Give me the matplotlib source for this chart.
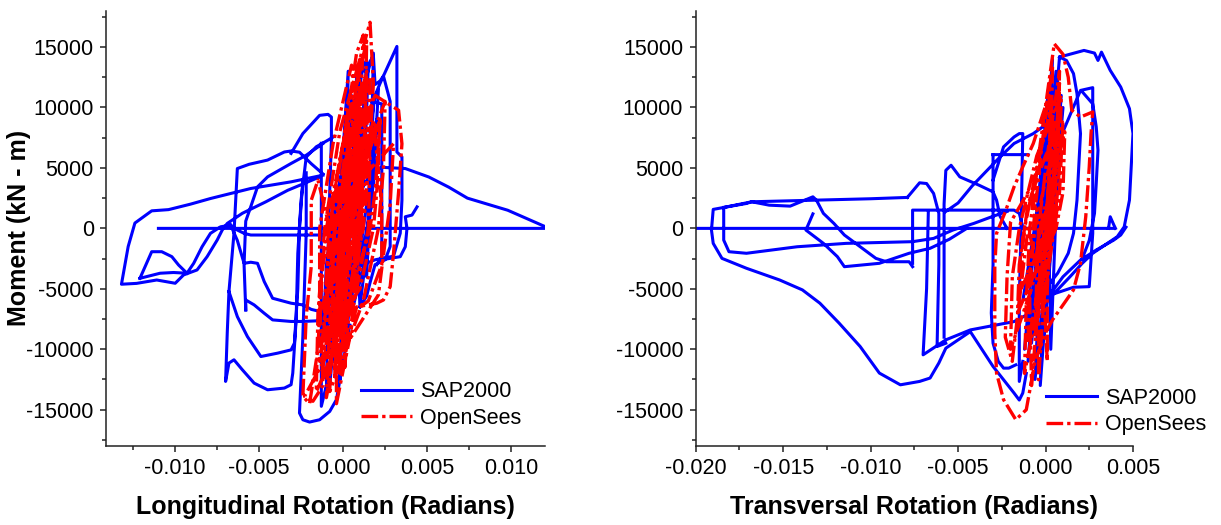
import numpy as np
import matplotlib.pyplot as plt
from matplotlib.ticker import MultipleLocator, FormatStrFormatter

plt.rcParams["font.family"] = ["Liberation Sans", "DejaVu Sans"]
plt.rcParams["axes.unicode_minus"] = False

# ---- Longitudinal panel: SAP2000 (blue), traced as (rotation, moment) pieces
long_sap = [
    [(-0.0110, 0), (0.0121, 0)],
    [(0.0121, 100), (0.0098, 1500), (0.0074, 2500), (0.0063, 3400), (0.0051, 4250),
     (0.0037, 4950), (0.0023, 5050), (0.0017, 4700), (0.0010, 3000)],
    [(-0.0012, 4400), (-0.0031, 3850), (-0.0055, 3300), (-0.0079, 2470), (-0.0091, 2000),
     (-0.0104, 1550), (-0.0114, 1450), (-0.0124, 440), (-0.0128, -1500), (-0.0132, -4620),
     (-0.0123, -4550), (-0.0111, -4270), (-0.0100, -4540), (-0.0095, -3850), (-0.0087, -3440),
     (-0.0081, -2340), (-0.0075, -965), (-0.0072, -140), (-0.0069, 410), (-0.0060, 1250),
     (-0.0046, 2200), (-0.0033, 3150), (-0.0014, 4250)],
    [(-0.0121, -4130), (-0.0114, -1930), (-0.0108, -1930), (-0.0102, -2340), (-0.0098, -3030),
     (-0.0093, -3710), (-0.0101, -3650), (-0.0109, -3710), (-0.0121, -4130)],
    [(-0.0093, -3710), (-0.0089, -2890), (-0.0084, -1520), (-0.0079, -410), (-0.0073, 130),
     (-0.0067, 270), (-0.0063, -140), (-0.0059, -410), (-0.0055, -550), (-0.0012, -550)],
    [(-0.0067, 270), (-0.0063, -1000), (-0.0059, -2890), (-0.0055, -2800), (-0.0051, -2890),
     (-0.0047, -4400), (-0.0042, -5780), (-0.0031, -6190), (-0.0024, -6330), (-0.0019, -6700),
     (-0.0013, -6900)],
    [(-0.0058, -6740), (-0.0058, -5920), (-0.0053, -6330), (-0.0047, -7020), (-0.0042, -7570),
     (-0.0031, -7700), (-0.0024, -7700), (-0.0016, -7650), (-0.0011, -7200)],
    [(-0.0058, -6740), (-0.0059, -3000), (-0.0058, 600), (-0.0055, 1800), (-0.0051, 3430),
     (-0.0045, 4260), (-0.0031, 5370), (-0.0022, 6050), (-0.0012, 7020)],
    [(-0.0012, 4500), (-0.0019, 5350), (-0.0026, 6300), (-0.0031, 6400), (-0.0035, 6320),
     (-0.0045, 5650), (-0.0056, 5300), (-0.0063, 4950), (-0.0064, 2300), (-0.0065, -400),
     (-0.0068, -5230), (-0.0069, -8600), (-0.0070, -12660), (-0.0068, -11140), (-0.0065, -10870),
     (-0.0060, -11700), (-0.0053, -12800), (-0.0045, -13350), (-0.0035, -13210), (-0.0031, -12930),
     (-0.0030, -11970), (-0.0028, -7570), (-0.0027, -2060), (-0.0025, 2400), (-0.0022, 5900),
     (-0.0016, 6750), (-0.0009, 7300), (-0.0006, 7550)],
    [(-0.0068, -5230), (-0.0063, -7300), (-0.0057, -8950), (-0.0049, -10600), (-0.0039, -10320),
     (-0.0031, -10050), (-0.0029, -9490), (-0.0027, -5000), (-0.0026, 0), (-0.0024, 4000)],
    [(-0.0022, 4600), (-0.0022, -410), (-0.0024, -8950), (-0.0026, -15270), (-0.0024, -15830),
     (-0.0020, -16020), (-0.0014, -15830), (-0.0008, -15140), (-0.0004, -14170),
     (0.0000, -11000), (0.0004, -8000)],
    [(-0.0031, 6200), (-0.0024, 7840), (-0.0014, 9350), (-0.0009, 9430), (-0.0007, 9210),
     (-0.0007, 7290), (-0.0008, 3000), (-0.0009, -2000)],
    [(0.0009, -3150), (0.0019, -2600), (0.0030, -2300), (0.0034, -400), (0.0035, 2330),
     (0.0035, 5910), (0.0032, 6320), (0.0032, 15050), (0.0022, 12000), (0.0019, 11000),
     (0.0016, 8000)],
    [(0.0022, -2620), (0.0028, -2480), (0.0034, -2340), (0.0037, -1520), (0.0038, 0),
     (0.0037, 960), (0.0041, 1100), (0.0044, 1780)],
    [(0.0013, 13000), (0.0018, 14300), (0.0019, 11900), (0.0022, 12200), (0.0024, 12600),
     (0.0028, 10500), (0.0028, 3000), (0.0028, -1500), (0.0025, -2600), (0.0019, -3000),
     (0.0016, -4500), (0.0014, -5600), (0.0010, -6500)],
    [(0.0017, 10500), (0.0023, 10300), (0.0023, 3000), (0.0023, -2300), (0.0020, -3000)],
    [(-0.0013, 7040), (-0.0013, -3000), (-0.0013, -14720), (-0.0010, -13000)],
    [(0.0000, 0), (0.0004, 7500), (0.0009, 12500), (0.0006, 6000), (0.0003, 0), (-0.0004, -7000),
     (-0.0008, -13000), (-0.0006, -6000), (-0.0004, 0), (0.0004, 7000), (0.0012, 13500),
     (0.0014, 13900), (0.0010, 5000), (0.0005, 0), (-0.0004, -8000), (-0.0010, -13500),
     (-0.0009, -6000), (-0.0007, 0), (0.0002, 7000), (0.0018, 14500), (0.0017, 8000),
     (0.0016, 4000), (0.0010, -2000), (-0.0006, -10000), (-0.0005, -4000), (-0.0003, 0),
     (0.0003, 13000), (0.0002, 5000), (0.0000, -5000), (-0.0002, -12500), (0.0000, -5000),
     (0.0004, 0), (0.0010, 7000), (0.0015, 13600), (0.0013, 6000), (0.0010, 0), (0.0002, -5000),
     (-0.0009, -8000), (-0.0007, -2000), (-0.0004, 3000), (0.0010, 8000), (0.0021, 11500),
     (0.0018, 4000), (0.0014, -2000), (0.0005, -7000), (0.0007, 0), (0.0011, 9000),
     (0.0008, 3000), (0.0002, -2000), (-0.0010, -6000), (-0.0008, 0), (0.0005, 6000),
     (0.0018, 10500), (0.0016, 3000), (0.0013, -3000), (0.0010, -6500), (0.0008, 0),
     (0.0005, 11000), (0.0003, 4000), (-0.0004, -3000), (-0.0012, -9000), (-0.0010, -3000),
     (-0.0004, 2000), (0.0012, 8000), (0.0010, 2000), (0.0006, -3000), (0.0002, -9000),
     (0.0003, -3000), (0.0005, 3000), (0.0008, 12500), (0.0006, 5000), (0.0002, -2000),
     (-0.0006, -11000), (-0.0004, -4000), (0.0000, 2000), (0.0003, 6000), (0.0010, 0),
     (0.0014, -4000), (0.0016, 2000), (0.0020, 9000), (0.0017, 2000), (0.0010, -3000),
     (-0.0001, -8000), (0.0001, -2000), (0.0006, 5000), (0.0003, 0), (-0.0003, -4000),
     (0.0002, 3000), (0.0000, 0)],
]

# ---- Longitudinal panel: OpenSees (red)
long_ops = [
    [(0.0000, 0), (0.0004, 6000), (0.0008, 11000), (0.0007, 6000), (0.0005, 0), (0.0000, -5000),
     (-0.0006, -8500), (-0.0006, -4000), (-0.0004, 0), (0.0002, 6000), (0.0010, 14000),
     (0.0009, 7000), (0.0007, 0), (0.0000, -7000), (-0.0012, -12500), (-0.0011, -6000),
     (-0.0008, 0), (0.0000, 7000), (0.0014, 15500), (0.0013, 8000), (0.0010, 0), (0.0002, -8000),
     (-0.0016, -13500), (-0.0015, -7000), (-0.0011, 0), (-0.0002, 8000), (0.0016, 17050),
     (0.0018, 12000), (0.0015, 5000), (0.0012, 0), (0.0000, -8000), (-0.0023, -13900),
     (-0.0018, -14300), (-0.0012, -13000), (-0.0014, -6000), (-0.0014, 0), (-0.0006, 7000),
     (0.0005, 13500), (0.0011, 8000), (0.0011, 0), (0.0004, -9000), (-0.0004, -14500),
     (-0.0004, -7000), (-0.0002, 0), (0.0004, 6500), (0.0012, 12000), (0.0016, 6000),
     (0.0015, 0), (0.0006, -6500), (-0.0014, -11000), (-0.0008, -4000), (-0.0005, 0),
     (0.0005, 6000), (0.0019, 11000), (0.0028, 10200), (0.0033, 9770), (0.0035, 7000),
     (0.0033, 3000), (0.0030, -2060), (0.0028, -4820), (0.0024, -5920), (0.0020, -6190),
     (0.0008, -6500), (-0.0002, -12000), (-0.0001, -6000), (0.0000, 0), (0.0010, 5000),
     (0.0025, 10500), (0.0024, 5000), (0.0021, 0), (0.0012, -6000), (-0.0008, -13500),
     (-0.0006, -6000), (-0.0003, 0), (0.0010, 4000), (0.0030, 7000), (0.0028, 2000),
     (0.0026, 0), (0.0021, -5500), (0.0000, -10000), (0.0002, -4000), (0.0004, 0),
     (0.0012, 5000), (0.0018, 9000), (0.0023, 2000), (0.0023, -3000), (0.0015, -6000),
     (0.0005, -7000), (0.0006, -2000), (0.0008, 0), (0.0014, 6000), (0.0022, 9000),
     (0.0020, 3000), (0.0018, 0), (0.0010, -5000), (-0.0010, -9000), (-0.0009, -3000),
     (-0.0008, 0), (-0.0015, 3990), (-0.0019, 2330), (-0.0019, -3150), (-0.0022, -7300),
     (-0.0024, -13900), (-0.0020, -14500), (-0.0015, -10000), (-0.0013, -4000), (-0.0010, 0),
     (0.0000, 7000), (0.0008, 14500), (0.0012, 16000), (0.0010, 8000), (0.0006, 0),
     (-0.0003, -7000), (-0.0010, -14000), (-0.0008, -8000), (-0.0005, 0), (0.0004, 7000),
     (0.0016, 12500), (0.0014, 5000), (0.0010, 0), (0.0003, -6000), (-0.0003, -12000),
     (-0.0003, -5000), (0.0000, 0), (0.0003, 4000), (0.0009, 11500), (0.0008, 5000),
     (0.0004, 0), (-0.0002, -5000), (-0.0009, -9500), (-0.0008, -4000), (-0.0006, 0),
     (0.0002, 6000), (0.0014, 13000), (0.0012, 5000), (0.0009, 0), (0.0004, -6000),
     (0.0001, -11500), (0.0002, -5000), (0.0004, 0), (0.0012, 5000), (0.0022, 9000),
     (0.0019, 3000), (0.0016, 0), (0.0008, -4000), (-0.0002, -7000), (-0.0002, -3000),
     (0.0000, 0), (0.0004, 4000), (0.0012, 10000), (0.0011, 4000), (0.0008, 0),
     (-0.0002, -5000), (-0.0011, -10000), (-0.0010, -5000), (-0.0007, 0), (0.0000, 5000),
     (0.0006, 12000), (0.0005, 5000), (0.0002, 0), (-0.0003, -6000), (-0.0005, -12500),
     (-0.0004, -6000), (-0.0002, 0), (0.0008, 4000), (0.0017, 8000), (0.0013, 2000),
     (0.0010, 0), (0.0002, -3000), (-0.0006, -5000), (-0.0005, 0), (0.0003, 4000),
     (0.0007, 6000), (0.0004, 0), (-0.0006, -4000), (-0.0014, -7000), (-0.0012, -3000),
     (-0.0008, 0), (-0.0004, 4000), (0.0003, 9500), (0.0002, 4000), (0.0000, 0),
     (-0.0002, -4000), (-0.0002, -9000), (0.0000, -4000), (0.0003, 0), (0.0007, 4000),
     (0.0011, 7000), (0.0008, 2000), (0.0004, 0), (0.0000, -2000), (0.0002, 0), (0.0005, 3000)],
]

# ---- Transversal panel: SAP2000 (blue)
trans_sap = [
    [(-0.0200, 0), (0.0039, 0)],
    [(0.0036, 0), (0.0037, 960), (0.0039, 300), (0.0040, 0)],
    [(-0.0057, 1400), (-0.0050, 2100), (-0.0042, 3500), (-0.0036, 4400), (-0.0026, 5910),
     (-0.0018, 7020), (-0.0007, 7840), (0.0001, 8670), (0.0005, 8900), (0.0008, 14170),
     (0.0022, 14720), (0.0028, 14500), (0.0030, 13890), (0.0032, 14580), (0.0037, 13070),
     (0.0043, 11690), (0.0048, 9900), (0.0050, 7840), (0.0049, 5090), (0.0048, 2340),
     (0.0045, 130), (0.0041, -690), (0.0034, -1380), (0.0027, -2060), (0.0021, -2890),
     (0.0014, -4000), (0.0005, -5370), (-0.0002, -6000)],
    [(0.0008, 14170), (0.0012, 13890), (0.0016, 12800), (0.0018, 11140), (0.0019, 9500),
     (0.0020, 7840), (0.0018, 2340), (0.0016, -410), (0.0013, -2060), (0.0007, -3700),
     (0.0000, -5000)],
    [(0.0010, 8000), (0.0020, 11410), (0.0027, 11640), (0.0027, 5090), (0.0027, -410),
     (0.0025, -4820), (0.0016, -4870), (0.0003, -5500), (-0.0003, -6500)],
    [(0.0021, 11300), (0.0027, 10300), (0.0029, 8400), (0.0030, 6460), (0.0029, 3710),
     (0.0028, 1240), (0.0025, -1000), (0.0021, -2500)],
    [(0.0003, -5370), (0.0010, -4000), (0.0020, -2620), (0.0029, -1790), (0.0039, -970),
     (0.0043, -550), (0.0046, 100)],
    [(-0.0079, 2560), (-0.0100, 2450), (-0.0140, 2300), (-0.0168, 2200), (-0.0184, 1730),
     (-0.0190, 1570), (-0.0191, -140), (-0.0190, -1240), (-0.0185, -2480), (-0.0171, -3300),
     (-0.0152, -4270), (-0.0139, -5090), (-0.0129, -6190), (-0.0118, -7840), (-0.0106, -9770),
     (-0.0095, -11970), (-0.0083, -12940), (-0.0072, -12660), (-0.0066, -12380),
     (-0.0061, -11140), (-0.0057, -9910), (-0.0043, -8540), (-0.0030, -11420),
     (-0.0018, -13620), (-0.0015, -14200), (-0.0013, -13620), (-0.0011, -12000)],
    [(-0.0079, 2560), (-0.0072, 3770), (-0.0068, 3710), (-0.0064, 2890), (-0.0061, 1240),
     (-0.0061, -3000), (-0.0062, -9770), (-0.0057, -9500)],
    [(-0.0184, 1730), (-0.0171, 2060), (-0.0168, 2200), (-0.0158, 1920), (-0.0146, 1840),
     (-0.0133, 2610), (-0.0131, 2340), (-0.0127, 1240), (-0.0121, 410), (-0.0115, -550),
     (-0.0106, -1520), (-0.0097, -2480), (-0.0091, -2760), (-0.0078, -2760), (-0.0076, -3170)],
    [(-0.0184, 1730), (-0.0184, 690), (-0.0184, -970), (-0.0181, -1930), (-0.0171, -2060),
     (-0.0142, -1520), (-0.0114, -1240), (-0.0076, -1100), (-0.0064, -830), (-0.0053, -140),
     (-0.0041, 410), (-0.0030, 1000), (-0.0022, 1400)],
    [(-0.0133, 1200), (-0.0137, -140), (-0.0127, -1240), (-0.0119, -2340), (-0.0115, -3170),
     (-0.0095, -2890), (-0.0078, -2060), (-0.0066, -1650), (-0.0055, -900), (-0.0045, 0)],
    [(-0.0076, -2890), (-0.0076, 1510), (-0.0018, 1510), (-0.0015, 1240), (-0.0013, 130)],
    [(-0.0067, 1400), (-0.0068, -5000), (-0.0070, -10460), (-0.0057, -9220), (-0.0043, -8400),
     (-0.0018, -7710), (-0.0009, -7020)],
    [(-0.0058, -9000), (-0.0058, 2000), (-0.0057, 4800), (-0.0054, 5220), (-0.0049, 4260),
     (-0.0038, 3570), (-0.0030, 3020), (-0.0028, 2340), (-0.0026, 1000), (-0.0022, 0)],
    [(-0.0030, 6100), (-0.0030, 2000), (-0.0030, -3000), (-0.0031, -7000), (-0.0030, -9500),
     (-0.0027, -11000), (-0.0024, -11560), (-0.0021, -11560), (-0.0017, -11290)],
    [(-0.0030, 6100), (-0.0010, 6100)],
    [(-0.0030, 4000), (-0.0024, 6740), (-0.0018, 7560), (-0.0015, 7840), (-0.0013, 7840),
     (-0.0014, 0), (-0.0015, -6000), (-0.0015, -12660), (-0.0013, -11000)],
    [(0.0000, 0), (0.0004, 9000), (-0.0005, -8000), (0.0006, 13000), (-0.0010, -11000),
     (0.0004, 14000), (-0.0003, -13000), (0.0009, 11000), (-0.0012, -10000), (0.0002, 12000),
     (-0.0006, -12500), (0.0010, 10000), (-0.0001, -9000), (0.0005, 8000), (-0.0013, -6000),
     (0.0007, 12000), (-0.0008, -9500), (0.0001, 7000), (0.0003, -10000), (0.0008, 9000),
     (-0.0010, -4000), (0.0005, 5000), (-0.0004, -6000), (0.0002, 3000)],
]

# ---- Transversal panel: OpenSees (red)
trans_ops = [
    [(0.0000, 0), (0.0003, 6000), (0.0005, 9000), (0.0004, 4000), (0.0002, 0), (-0.0003, -5000),
     (-0.0006, -9000), (-0.0005, -4000), (-0.0004, 0), (0.0001, 6000), (0.0008, 13000),
     (0.0007, 6000), (0.0004, 0), (-0.0004, -6000), (-0.0012, -12000), (-0.0011, -6000),
     (-0.0009, 0), (-0.0003, 7000), (0.0005, 15270), (0.0010, 14400), (0.0013, 12500),
     (0.0015, 9770), (0.0020, 9210), (0.0027, 9630), (0.0026, 7800), (0.0025, 5070),
     (0.0023, 960), (0.0020, -2890), (0.0016, -5090), (0.0012, -5920), (0.0004, -7570),
     (0.0000, -8640), (-0.0006, -11000), (-0.0011, -15000), (-0.0017, -15820),
     (-0.0024, -14170), (-0.0028, -11970), (-0.0029, -8640), (-0.0029, -5900),
     (-0.0029, -3150), (-0.0028, -411), (-0.0023, 1370), (-0.0018, 3430), (-0.0013, 5090),
     (-0.0007, 7020), (0.0002, 11000), (0.0003, 5000), (0.0000, 0), (-0.0004, -6000),
     (-0.0008, -13000), (-0.0009, -6000), (-0.0007, 0), (-0.0002, 7000), (0.0004, 13500),
     (0.0003, 6000), (0.0000, 0), (-0.0008, -5000), (-0.0020, -10000), (-0.0019, -4000),
     (-0.0015, 0), (-0.0005, 6000), (0.0009, 11000), (0.0008, 5000), (0.0005, 0),
     (-0.0001, -6000), (-0.0004, -12520), (-0.0004, -6000), (-0.0002, 0), (0.0004, 4000),
     (0.0011, 8000), (0.0010, 3000), (0.0006, 0), (-0.0004, -3000), (-0.0016, -7000),
     (-0.0015, -3000), (-0.0012, 0), (-0.0005, 5000), (0.0003, 10000), (0.0002, 4000),
     (0.0000, 0), (-0.0010, 3000), (-0.0020, 500), (-0.0022, -4000), (-0.0023, -9000),
     (-0.0019, -11000), (-0.0015, -6000), (-0.0010, 0), (-0.0001, -5000), (0.0001, -11000),
     (0.0001, -5000), (0.0003, 0), (0.0005, 5000), (0.0008, 12000), (0.0006, 5000),
     (0.0003, 0), (-0.0003, -4000), (-0.0010, -9500), (-0.0009, -4000), (-0.0006, 0),
     (0.0000, 4000), (0.0006, 7000), (0.0004, 3000), (0.0001, 0), (-0.0006, -2500),
     (-0.0014, -5000), (-0.0013, -1000), (-0.0010, 2000), (0.0000, 6000), (0.0010, 9000),
     (0.0008, 3000), (0.0005, 0), (0.0000, -3000), (-0.0002, -7000), (-0.0001, -3000),
     (0.0001, 0), (0.0004, 4000), (0.0002, 0), (-0.0006, -3000), (-0.0003, 0), (0.0000, 2000)],
]


def to_xy(pieces):
    xs, ys = [], []
    for piece in pieces:
        for x, y in piece:
            xs.append(x)
            ys.append(y)
        xs.append(np.nan)
        ys.append(np.nan)
    return np.array(xs), np.array(ys)


fig = plt.figure(figsize=(12.21, 5.25), dpi=100)
ax1 = fig.add_axes([0.0871, 0.1505, 0.3590, 0.829])
ax2 = fig.add_axes([0.5698, 0.1505, 0.3581, 0.829])

dash = (0, (5, 1.2, 1, 1.2))
panels = [
    (ax1, long_sap, long_ops, (-0.0141, 0.0120), "Longitudinal Rotation (Radians)", (0.966, 0.02)),
    (ax2, trans_sap, trans_ops, (-0.020, 0.005), "Transversal Rotation (Radians)", (1.187, 0.005)),
]

for ax, sap, ops, xlim, xlabel, anchor in panels:
    sx, sy = to_xy(sap)
    ox, oy = to_xy(ops)
    ax.plot(sx, sy, color="#0000ff", lw=2.2, label="SAP2000")
    ax.plot(ox, oy, color="#ff0000", lw=2.4, linestyle=dash, label="OpenSees")

    ax.set_xlim(*xlim)
    ax.set_ylim(-18000, 18000)
    ax.xaxis.set_major_locator(MultipleLocator(0.005))
    ax.xaxis.set_minor_locator(MultipleLocator(0.0025))
    ax.xaxis.set_major_formatter(FormatStrFormatter("%.3f"))
    ax.yaxis.set_major_locator(MultipleLocator(5000))
    ax.yaxis.set_minor_locator(MultipleLocator(2500))

    for side in ("top", "right"):
        ax.spines[side].set_visible(False)
    for side in ("left", "bottom"):
        ax.spines[side].set_linewidth(1.1)
        ax.spines[side].set_color("#222222")
    ax.tick_params(which="major", direction="out", length=4, width=1.1, labelsize=15.5,
                   color="#222222", pad=5)
    ax.tick_params(which="minor", direction="out", length=3, width=1.1, color="#222222")

    ax.set_xlabel(xlabel, fontsize=18, fontweight="bold", labelpad=11)
    ax.legend(loc="lower right", bbox_to_anchor=anchor, frameon=False, fontsize=15.5,
              handlelength=2.4, handletextpad=0.35, labelspacing=0.25, borderaxespad=0)

ax1.set_ylabel("Moment (kN - m)", fontsize=18, fontweight="bold")
ax1.yaxis.set_label_coords(-0.171, 0.5)

fig.savefig("out.png", dpi=100)
